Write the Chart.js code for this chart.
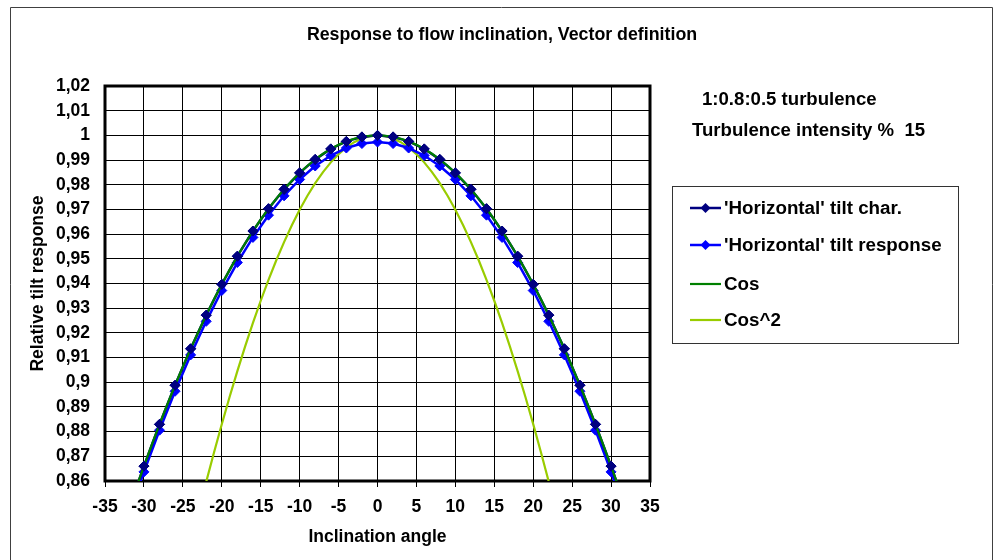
<!DOCTYPE html>
<html>
<head>
<meta charset="utf-8">
<script src="https://cdn.jsdelivr.net/npm/chart.js@4.4.1/dist/chart.umd.min.js"></script>
<style>
  html, body { margin: 0; padding: 0; background: #fff; }
  #wrap { position: relative; width: 993px; height: 560px; }
</style>
</head>
<body>
<div id="wrap"><canvas id="c" width="993" height="560"></canvas></div>
<script>
// ---- data ----
const chartTitle = "Response to flow inclination, Vector definition";
const xAxisTitle = "Inclination angle";
const yAxisTitle = "Relative tilt response";
const noteLines = ["1:0.8:0.5 turbulence", "Turbulence intensity %  15"];
const seriesNames = ["'Horizontal' tilt char.", "'Horizontal' tilt response", "Cos", "Cos^2"];

const markerAngles = [-32,-30,-28,-26,-24,-22,-20,-18,-16,-14,-12,-10,-8,-6,-4,-2,0,2,4,6,8,10,12,14,16,18,20,22,24,26,28,30,32];
const tiltChar = [0.84805,0.86603,0.88295,0.89879,0.91355,0.92718,0.93969,0.95106,0.96126,0.97030,0.97815,0.98481,0.99027,0.99452,0.99756,0.99939,1.00000,
                  0.99939,0.99756,0.99452,0.99027,0.98481,0.97815,0.97030,0.96126,0.95106,0.93969,0.92718,0.91355,0.89879,0.88295,0.86603,0.84805];
const tiltResponse = [0.84576,0.86369,0.88057,0.89636,0.91108,0.92468,0.93715,0.94849,0.95866,0.96768,0.97551,0.98215,0.98760,0.99183,0.99487,0.99669,0.99730,
                      0.99669,0.99487,0.99183,0.98760,0.98215,0.97551,0.96768,0.95866,0.94849,0.93715,0.92468,0.91108,0.89636,0.88057,0.86369,0.84576];

const cosAngles = [-34,-33,-32,-31,-30,-29,-28,-27,-26,-25,-24,-23,-22,-21,-20,-19,-18,-17,-16,-15,-14,-13,-12,-11,-10,-9,-8,-7,-6,-5,-4,-3,-2,-1,0,
                   1,2,3,4,5,6,7,8,9,10,11,12,13,14,15,16,17,18,19,20,21,22,23,24,25,26,27,28,29,30,31,32,33,34];
const cosValues = [0.82904,0.83867,0.84805,0.85717,0.86603,0.87462,0.88295,0.89101,0.89879,0.90631,0.91355,0.92050,0.92718,0.93358,0.93969,0.94552,0.95106,0.95630,0.96126,0.96593,0.97030,0.97437,0.97815,0.98163,0.98481,0.98769,0.99027,0.99255,0.99452,0.99619,0.99756,0.99863,0.99939,0.99985,1.00000,
                   0.99985,0.99939,0.99863,0.99756,0.99619,0.99452,0.99255,0.99027,0.98769,0.98481,0.98163,0.97815,0.97437,0.97030,0.96593,0.96126,0.95630,0.95106,0.94552,0.93969,0.93358,0.92718,0.92050,0.91355,0.90631,0.89879,0.89101,0.88295,0.87462,0.86603,0.85717,0.84805,0.83867,0.82904];

const cos2Angles = [-24,-23,-22,-21,-20,-19,-18,-17,-16,-15,-14,-13,-12,-11,-10,-9,-8,-7,-6,-5,-4,-3,-2,-1,0,
                    1,2,3,4,5,6,7,8,9,10,11,12,13,14,15,16,17,18,19,20,21,22,23,24];
const cos2Values = [0.83457,0.84733,0.85967,0.87157,0.88302,0.89401,0.90451,0.91452,0.92402,0.93301,0.94147,0.94940,0.95677,0.96359,0.96985,0.97553,0.98063,0.98515,0.98907,0.99240,0.99513,0.99726,0.99878,0.99970,1.00000,
                    0.99970,0.99878,0.99726,0.99513,0.99240,0.98907,0.98515,0.98063,0.97553,0.96985,0.96359,0.95677,0.94940,0.94147,0.93301,0.92402,0.91452,0.90451,0.89401,0.88302,0.87157,0.85967,0.84733,0.83457];

const xMin = -35, xMax = 35, xStep = 5;
const yMin = 0.86, yMax = 1.02, yStep = 0.01;

// ---- build ----
const pts = (xs, ys) => xs.map((x, i) => ({x: x, y: ys[i]}));
const FONT = "'Liberation Sans', Arial, sans-serif";

// draw order: lower 'order' is drawn on top
const datasets = [
  { label: seriesNames[0], data: pts(markerAngles, tiltChar), borderColor: '#000080', backgroundColor: '#000080',
    borderWidth: 2.5, pointStyle: 'rectRot', pointRadius: 5, pointBorderWidth: 1, tension: 0, clip: 0, order: 2 },
  { label: seriesNames[1], data: pts(markerAngles, tiltResponse), borderColor: '#0000FF', backgroundColor: '#0000FF',
    borderWidth: 2.5, pointStyle: 'rectRot', pointRadius: 5, pointBorderWidth: 1, tension: 0, clip: 0, order: 3 },
  { label: seriesNames[2], data: pts(cosAngles, cosValues), borderColor: '#008000', backgroundColor: '#008000',
    borderWidth: 2.2, pointRadius: 0, tension: 0, clip: 0, order: 1 },
  { label: seriesNames[3], data: pts(cos2Angles, cos2Values), borderColor: '#99CC00', backgroundColor: '#99CC00',
    borderWidth: 2.2, pointRadius: 0, tension: 0, clip: 0, order: 4 }
];

const decorPlugin = {
  id: 'decor',
  beforeDatasetsDraw(chart) {
    const ctx = chart.ctx, a = chart.chartArea;
    ctx.save();
    ctx.strokeStyle = '#000';
    ctx.lineWidth = 3;
    ctx.strokeRect(a.left, a.top, a.right - a.left, a.bottom - a.top);
    ctx.restore();
  },
  afterDatasetsDraw(chart) {
    // redraw the 'tilt char.' markers above the Cos line
    const ctx = chart.ctx, a = chart.chartArea;
    ctx.save();
    ctx.beginPath();
    ctx.rect(a.left, a.top, a.right - a.left, a.bottom - a.top);
    ctx.clip();
    const meta = chart.getDatasetMeta(0);
    meta.data.forEach(p => p.draw(ctx, a));
    ctx.restore();
  },
  afterDraw(chart) {
    const ctx = chart.ctx, a = chart.chartArea;
    ctx.save();
    // outer frame
    ctx.strokeStyle = '#404040';
    ctx.lineWidth = 1;
    ctx.beginPath();
    ctx.moveTo(10.5, 565); ctx.lineTo(10.5, 7.5); ctx.lineTo(992.5, 7.5); ctx.lineTo(992.5, 565);
    ctx.stroke();
    ctx.fillStyle = '#000';
    // title
    ctx.font = "bold 17.8px " + FONT;
    ctx.textAlign = 'center'; ctx.textBaseline = 'middle';
    ctx.fillText(chartTitle, 502, 35);
    // axis titles
    ctx.font = "bold 17.5px " + FONT;
    ctx.fillText(xAxisTitle, (a.left + a.right) / 2, 537);
    ctx.save();
    ctx.translate(38, (a.top + a.bottom) / 2);
    ctx.rotate(-Math.PI / 2);
    ctx.fillText(yAxisTitle, 0, 0);
    ctx.restore();
    // notes
    ctx.font = "bold 18.6px " + FONT;
    ctx.textAlign = 'left';
    ctx.fillText(noteLines[0], 702, 100);
    ctx.fillText(noteLines[1], 692, 131);
    // legend
    const lx = 672, ly = 186, lw = 286, lh = 157;
    ctx.strokeStyle = '#333';
    ctx.lineWidth = 1;
    ctx.strokeRect(lx + 0.5, ly + 0.5, lw, lh);
    const rows = [208, 245, 284, 320];
    chart.data.datasets.forEach((ds, i) => {
      const y = rows[i];
      ctx.strokeStyle = ds.borderColor;
      ctx.lineWidth = ds.borderWidth;
      ctx.beginPath(); ctx.moveTo(690, y); ctx.lineTo(721, y); ctx.stroke();
      if (ds.pointRadius > 0) {
        const r = ds.pointRadius;
        ctx.fillStyle = ds.backgroundColor;
        ctx.beginPath();
        ctx.moveTo(705.5, y - r); ctx.lineTo(705.5 + r, y); ctx.lineTo(705.5, y + r); ctx.lineTo(705.5 - r, y);
        ctx.closePath(); ctx.fill();
      }
      ctx.fillStyle = '#000';
      ctx.font = "bold 18.8px " + FONT;
      ctx.textAlign = 'left'; ctx.textBaseline = 'middle';
      ctx.fillText(ds.label, 724, y + 1);
    });
    ctx.restore();
  }
};

new Chart(document.getElementById('c'), {
  type: 'line',
  data: { datasets: datasets },
  options: {
    responsive: false,
    animation: false,
    events: [],
    layout: { padding: { left: 0, top: 86, right: 343, bottom: 0 } },
    plugins: { legend: { display: false }, title: { display: false }, tooltip: { enabled: false } },
    scales: {
      x: {
        type: 'linear', min: xMin, max: xMax,
        ticks: { stepSize: xStep, color: '#000', font: { family: FONT, size: 17.5, weight: 'bold' }, padding: 10, maxRotation: 0 },
        grid: { color: '#000', lineWidth: 1, tickLength: 6, tickColor: '#000' },
        border: { display: false },
        afterFit(s) { s.height = 79; }
      },
      y: {
        type: 'linear', min: yMin, max: yMax,
        ticks: { stepSize: yStep, color: '#000', font: { family: FONT, size: 17.5, weight: 'bold' }, padding: 15,
          callback: (v) => String(Math.round(v * 100) / 100).replace('.', ',') },
        grid: { color: '#000', lineWidth: 1, drawTicks: false },
        border: { display: false },
        afterFit(s) { s.width = 105; }
      }
    }
  },
  plugins: [decorPlugin]
});
</script>
</body>
</html>
